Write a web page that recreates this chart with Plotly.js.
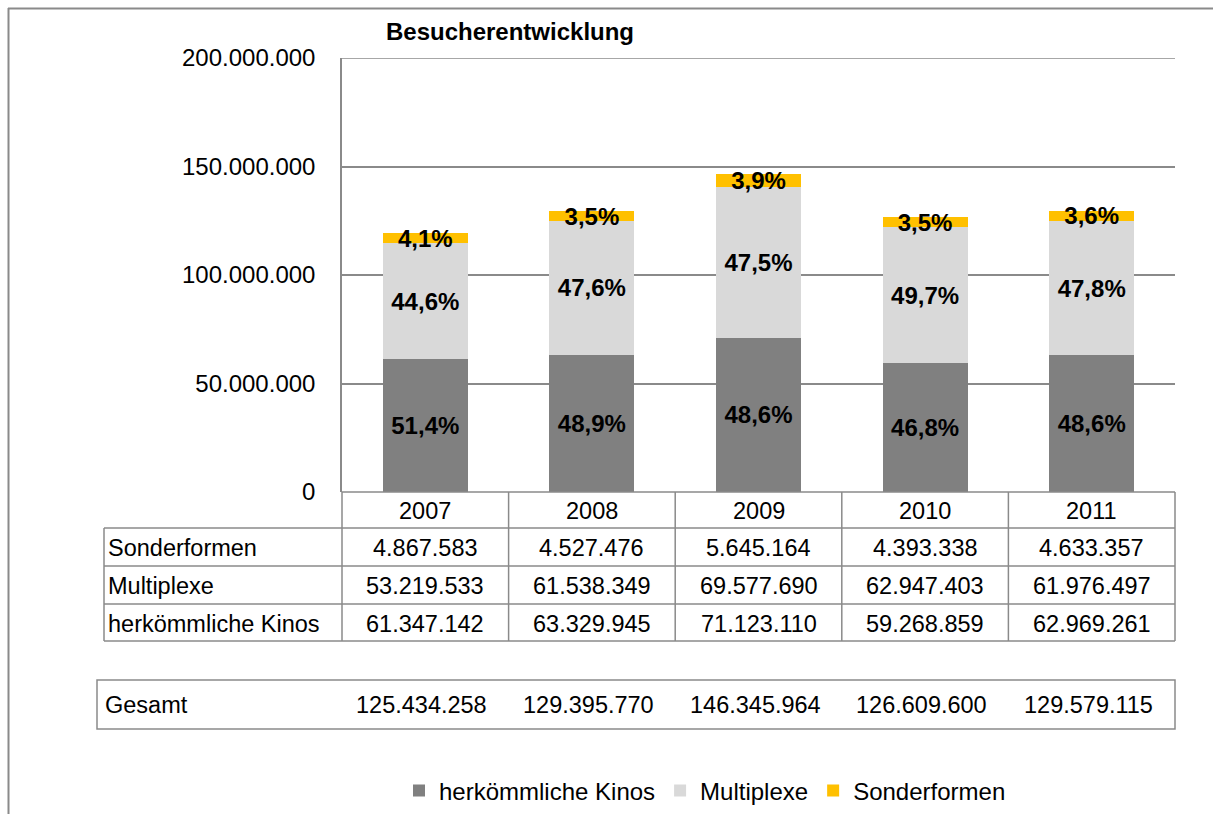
<!DOCTYPE html>
<html>
<head>
<meta charset="utf-8">
<script src="https://cdn.plot.ly/plotly-3.0.1.min.js"></script>
<style>html,body{margin:0;padding:0;background:#fff;}#chart{width:1213px;height:814px;}</style>
</head>
<body>
<div id="chart"></div>
<script>
// ---- data ----
const years = ['2007', '2008', '2009', '2010', '2011'];
const herkoemmlicheKinos = [61347142, 63329945, 71123110, 59268859, 62969261];
const multiplexe = [53219533, 61538349, 69577690, 62947403, 61976497];
const sonderformen = [4867583, 4527476, 5645164, 4393338, 4633357];
const gesamt = [125434258, 129395770, 146345964, 126609600, 129579115];
const seriesNames = ['herkömmliche Kinos', 'Multiplexe', 'Sonderformen'];
const tableRowLabels = ['Sonderformen', 'Multiplexe', 'herkömmliche Kinos'];
const gesamtLabel = 'Gesamt';
const chartTitle = 'Besucherentwicklung';
const yTicks = [0, 50000000, 100000000, 150000000, 200000000];

// ---- helpers ----
const FONT = 'Liberation Sans, Arial, sans-serif';
const L = 342, R = 1175, T = 58, B = 492; // plot area px
const W = 1213, H = 814;
const px = x => (x - L) / (R - L);
const py = y => (B - y) / (B - T);
const fmt = v => String(v).replace(/\B(?=(\d{3})+(?!\d))/g, '.');
const totals = years.map((_, i) => herkoemmlicheKinos[i] + multiplexe[i] + sonderformen[i]);
const pct = arr => arr.map((v, i) => (v / totals[i] * 100).toFixed(1).replace('.', ',') + '%');

const colors = ['#808080', '#D9D9D9', '#FFC000'];
const seriesVals = [herkoemmlicheKinos, multiplexe, sonderformen];

const traces = seriesVals.map((vals, k) => ({
  type: 'bar',
  name: seriesNames[k],
  x: years,
  y: vals,
  marker: {color: colors[k], line: {width: 0}},
  text: pct(vals),
  textposition: 'inside',
  insidetextanchor: 'middle',
  textangle: 0,
  constraintext: 'none',
  cliponaxis: false,
  textfont: {family: FONT, size: 24, color: '#000', weight: 'bold'},
  hoverinfo: 'x+y+name'
}));

const lineC = '#8a8a8a';
const shapes = [];
const annotations = [];
function hline(x0, x1, y, w) {
  shapes.push({type: 'line', xref: 'paper', yref: 'paper', x0: px(x0), x1: px(x1), y0: py(y), y1: py(y), line: {color: lineC, width: w || 1.5}});
}
function vline(x, y0, y1, w) {
  shapes.push({type: 'line', xref: 'paper', yref: 'paper', x0: px(x), x1: px(x), y0: py(y0), y1: py(y1), line: {color: lineC, width: w || 1.5}});
}
// outer frame
hline(8, W, 8.5, 2);
vline(8.5, 8, H, 2);
// top gridline (edge of plot)
shapes.push({type: 'line', xref: 'paper', yref: 'y', x0: 0, x1: 1, y0: yTicks[yTicks.length - 1], y1: yTicks[yTicks.length - 1], line: {color: lineC, width: 1.5}, layer: 'below'});
// x axis / table header top
hline(L, R, B);
// table horizontal lines
[528, 566, 604, 641].forEach(y => hline(104, R, y));
// table verticals
vline(104, 528, 641);
for (let i = 0; i <= years.length; i++) {
  const xpx = L + (R - L) * i / years.length;
  vline(xpx, B, 641);
}
// Gesamt box
shapes.push({type: 'rect', xref: 'paper', yref: 'paper', x0: px(97), x1: px(R), y0: py(680), y1: py(729), line: {color: lineC, width: 1.5}, fillcolor: 'rgba(0,0,0,0)'});

const tf = {family: FONT, size: 23.5, color: '#000'};
// years header
years.forEach((yr, i) => annotations.push({xref: 'x', yref: 'paper', x: i, y: py(511), text: yr, showarrow: false, xanchor: 'center', yanchor: 'middle', font: tf}));
// rows
const rowData = [sonderformen, multiplexe, herkoemmlicheKinos];
const rowY = [548, 586, 624];
rowData.forEach((arr, r) => {
  annotations.push({xref: 'paper', yref: 'paper', x: px(106), y: py(rowY[r]), text: tableRowLabels[r], showarrow: false, xanchor: 'left', yanchor: 'middle', font: tf});
  arr.forEach((v, i) => annotations.push({xref: 'x', yref: 'paper', x: i, y: py(rowY[r]), text: fmt(v), showarrow: false, xanchor: 'center', yanchor: 'middle', font: tf}));
});
annotations.push({xref: 'paper', yref: 'paper', x: px(103), y: py(705), text: gesamtLabel, showarrow: false, xanchor: 'left', yanchor: 'middle', font: tf});
gesamt.forEach((v, i) => annotations.push({xref: 'x', yref: 'paper', x: i - 0.02, y: py(705), text: fmt(v), showarrow: false, xanchor: 'center', yanchor: 'middle', font: tf}));

const layout = {
  width: W, height: H,
  paper_bgcolor: '#fff', plot_bgcolor: '#fff',
  separators: ',.',
  margin: {l: L, r: W - R, t: T, b: H - B, pad: 0, autoexpand: false},
  barmode: 'stack',
  bargap: 0.49,
  showlegend: true,
  title: {text: chartTitle, font: {family: FONT, size: 24, color: '#000', weight: 'bold'}, xref: 'container', yref: 'container', x: 510 / W, xanchor: 'center', y: 1 - 32 / H, yanchor: 'middle'},
  xaxis: {type: 'category', range: [-0.5, 4.5], showticklabels: false, showgrid: false, zeroline: false, showline: false, ticks: '', fixedrange: true, automargin: false},
  yaxis: {range: [0, 200000000], tickvals: yTicks, tickformat: ',.0f', showgrid: true, gridcolor: lineC, gridwidth: 1.5, zeroline: false, showline: true, linecolor: lineC, linewidth: 1.5, ticks: '', ticklabelstandoff: 20, tickfont: {family: FONT, size: 24, color: '#000'}, fixedrange: true, automargin: false},
  legend: {orientation: 'h', traceorder: 'normal', x: px(705), xanchor: 'center', y: py(791), yanchor: 'middle', font: {family: FONT, size: 24, color: '#000'}, bgcolor: 'rgba(0,0,0,0)', itemwidth: 30},
  shapes: shapes,
  annotations: annotations,
  font: {family: FONT}
};

Plotly.newPlot('chart', traces, layout, {displayModeBar: false, staticPlot: false});
</script>
</body>
</html>
